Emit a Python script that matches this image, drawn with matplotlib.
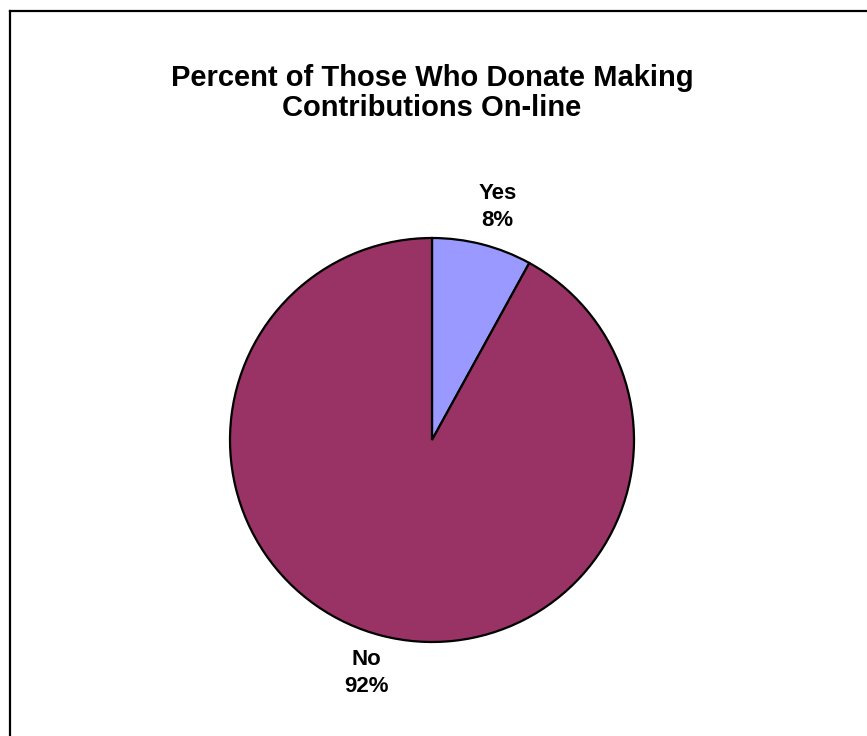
import numpy as np
import matplotlib
matplotlib.use("Agg")
import matplotlib.pyplot as plt
from matplotlib.lines import Line2D

categories = ["Yes", "No"]
values = [8, 92]
colors = ["#9999FF", "#993366"]
title = "Percent of Those Who Donate Making\nContributions On-line"

plt.rcParams["font.family"] = ["Liberation Sans", "DejaVu Sans"]

W, H = 867, 736
fig = plt.figure(figsize=(W / 100, H / 100), dpi=100)
fig.patch.set_facecolor("white")

# chart-area frame (left and top edges)
fig.add_artist(Line2D([9.5 / W, 9.5 / W], [0, 1 - 10.5 / H], color="black", lw=1.6,
                      transform=fig.transFigure))
fig.add_artist(Line2D([9.5 / W, 1], [1 - 10.5 / H, 1 - 10.5 / H], color="black", lw=1.6,
                      transform=fig.transFigure))

fig.text(432 / W, 1 - 93 / H, title, ha="center", va="center", fontsize=21,
         fontweight="bold", linespacing=1.12)

cx, cy, r = 432, 440, 202
ax = fig.add_axes([(cx - r) / W, (H - cy - r) / H, 2 * r / W, 2 * r / H])
wedges, _ = ax.pie(values, colors=colors, startangle=90, counterclock=False,
                   radius=1, wedgeprops=dict(edgecolor="black", linewidth=1.6))
ax.set_xlim(-1, 1)
ax.set_ylim(-1, 1)
ax.set_aspect("equal")
ax.axis("off")

total = sum(values)
start = 90.0
for cat, v in zip(categories, values):
    span = 360.0 * v / total
    mid = np.deg2rad(start - span / 2)
    start -= span
    x, y = 1.3 * np.cos(mid), 1.19 * np.sin(mid)
    ax.text(x, y, f"{cat}\n{v}%", ha="center", va="center", fontsize=16,
            fontweight="bold", linespacing=1.35, clip_on=False)

fig.savefig("out.png", dpi=100, facecolor="white")
